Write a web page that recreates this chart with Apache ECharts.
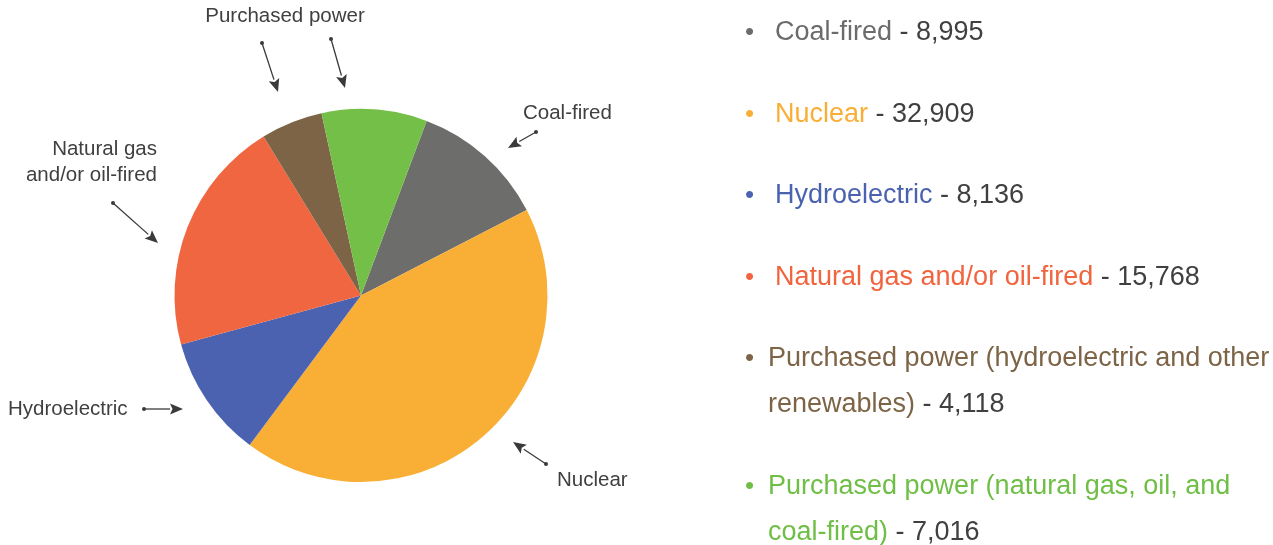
<!DOCTYPE html>
<html>
<head>
<meta charset="utf-8">
<script src="https://cdn.jsdelivr.net/npm/echarts@6/dist/echarts.min.js"></script>
<style>html,body{margin:0;padding:0;background:#fff}#c{width:1273px;height:545px}</style>
</head>
<body>
<div id="c"></div>
<script>
// ---- data ----
const categories = ['Coal-fired', 'Nuclear', 'Hydroelectric', 'Natural gas and/or oil-fired',
  'Purchased power (hydroelectric and other renewables)', 'Purchased power (natural gas, oil, and coal-fired)'];
const values = [8995, 32909, 8136, 15768, 4118, 7016];
const legendLines = [['Coal-fired'], ['Nuclear'], ['Hydroelectric'], ['Natural gas and/or oil-fired'],
  ['Purchased power (hydroelectric and other', 'renewables)'], ['Purchased power (natural gas, oil, and', 'coal-fired)']];
const sliceColors = ['#6d6e6c', '#f9af36', '#4a62b0', '#f06640', '#7d6446', '#74bf47'];
const legendColors = ['#6b6b6b', '#f9ae36', '#4a62b0', '#f0643e', '#7d6446', '#6fbe45'];
const annoLabels = [
  { text: 'Purchased power', x: 285, y: 16, align: 'center' },
  { text: 'Coal-fired', x: 523, y: 113, align: 'left' },
  { text: 'Natural gas\nand/or oil-fired', x: 157, y: 162, align: 'right' },
  { text: 'Hydroelectric', x: 8, y: 409, align: 'left' },
  { text: 'Nuclear', x: 557, y: 480, align: 'left' }
];
const arrows = [
  [[262, 43], [278, 92]],
  [[331, 39], [345, 88]],
  [[536, 132], [508, 148]],
  [[113, 203], [158, 243]],
  [[144, 409], [183, 409]],
  [[546, 464], [513, 442]]
];

const FONT = "'Liberation Sans', Arial, Helvetica, sans-serif";
const TXT = '#404040';
const fmt = v => v.toLocaleString('en-US');

const rich = { v: { color: TXT, fontSize: 27, fontFamily: FONT, lineHeight: 46 } };
categories.forEach((n, i) => {
  const bw = legendLines[i].length > 1 ? 23 : 30;
  rich['b' + i] = { color: legendColors[i], fontSize: 26, fontFamily: FONT, lineHeight: 46, width: bw, align: 'left' };
  rich['s' + i] = { fontSize: 26, fontFamily: FONT, lineHeight: 46, width: bw };
  rich['t' + i] = { color: legendColors[i], fontSize: 27, fontFamily: FONT, lineHeight: 46 };
});

const graphics = [];
annoLabels.forEach(l => {
  graphics.push({
    type: 'text', x: l.x, y: l.y,
    style: { text: l.text, fill: TXT, font: '20.5px ' + FONT, textAlign: l.align, textVerticalAlign: 'middle', lineHeight: 26 }
  });
});
arrows.forEach(([a, b]) => {
  const dx = b[0] - a[0], dy = b[1] - a[1];
  const L = Math.hypot(dx, dy), ux = dx / L, uy = dy / L;
  const hl = 13, hw = 5.5;
  const bx = b[0] - ux * hl, by = b[1] - uy * hl;
  graphics.push({ type: 'line', shape: { x1: a[0], y1: a[1], x2: bx, y2: by }, style: { stroke: '#3a3a3a', lineWidth: 1.3 } });
  graphics.push({ type: 'circle', shape: { cx: a[0], cy: a[1], r: 2 }, style: { fill: '#3a3a3a' } });
  graphics.push({ type: 'polygon', shape: { points: [[b[0], b[1]], [bx - uy * hw, by + ux * hw], [bx + ux * 2.5, by + uy * 2.5], [bx + uy * hw, by - ux * hw]] }, style: { fill: '#3a3a3a' } });
});

const chart = echarts.init(document.getElementById('c'), null, { renderer: 'canvas' });
chart.setOption({
  animation: false,
  backgroundColor: '#ffffff',
  legend: {
    orient: 'vertical',
    left: 740,
    top: 10,
    height: 800,
    padding: 0,
    itemGap: 35.5,
    icon: 'none',
    itemWidth: 0,
    itemHeight: 0,
    selectedMode: false,
    data: categories,
    textStyle: { rich: rich, fontFamily: FONT, fontSize: 27, lineHeight: 46 },
    formatter: name => {
      const i = categories.indexOf(name);
      const ls = legendLines[i];
      let s = `{b${i}|•}{t${i}|${ls[0]}}`;
      if (ls.length > 1) s += `\n{s${i}| }{t${i}|${ls[1]}}`;
      return s + `{v| - ${fmt(values[i])}}`;
    }
  },
  series: [{
    type: 'pie',
    center: [361, 295.5],
    radius: 186.5,
    startAngle: 69.4,
    clockwise: true,
    label: { show: false },
    labelLine: { show: false },
    emphasis: { disabled: true },
    data: categories.map((n, i) => ({ name: n, value: values[i], itemStyle: { color: sliceColors[i] } }))
  }],
  graphic: graphics
});
</script>
</body>
</html>
